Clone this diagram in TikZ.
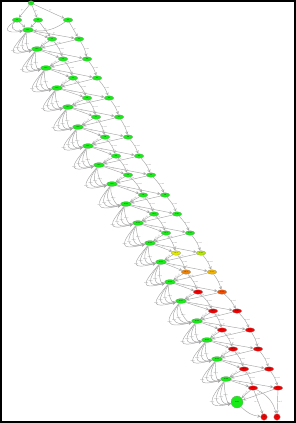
\documentclass[tikz,border=0pt]{standalone}
\usepackage{tikz}
\usetikzlibrary{arrows}
\usetikzlibrary{shapes.geometric}
\definecolor{gn}{RGB}{25,235,25}
\definecolor{rd}{RGB}{240,0,0}
\definecolor{yl}{RGB}{225,235,0}
\definecolor{yg}{RGB}{180,230,0}
\definecolor{og}{RGB}{235,130,10}
\definecolor{oy}{RGB}{240,180,0}
\definecolor{or}{RGB}{240,80,0}

\begin{document}
\begin{tikzpicture}[x=1pt, y=-1pt,
  st/.style={ellipse, draw=black!45, line width=0.2pt, inner sep=0pt,
    minimum width=9.5pt, minimum height=4.5pt, font=\fontsize{1.6}{1.6}\selectfont},
  ed/.style={->, >=stealth, draw=black!35, line width=0.45pt},
  lbl/.style={font=\fontsize{1.8}{1.8}\selectfont, text=black!55, inner sep=0.2pt}]
  \useasboundingbox (0,0) rectangle (296,423);
  \draw[line width=2pt] (1,1) rectangle (295,422);

  % start and first row
  \node[st, fill=gn, minimum width=6pt] (t) at (31,3) {0};
  \node[st, fill=gn] (r1) at (17,20) {r1};
  \node[st, fill=gn] (r2) at (38,20) {r2};
  \node[st, fill=gn] (r3) at (68,20) {r3};

  % main chain
  \foreach \i/\x/\y in {1/28/30, 2/37/49, 3/46/68, 4/57/88, 5/68/107,
      6/78/127, 7/88/146, 8/99/165, 9/112/184, 10/126/204, 11/138/223,
      12/150/243, 13/161/262, 14/170/282, 15/181/301, 16/197/321,
      17/207/340, 18/217/359, 19/226/379}
    \node[st, fill=gn, minimum width=11pt, minimum height=5pt] (m\i) at (\x,\y) {m\i};
  \node[circle, draw=black!45, line width=0.2pt, fill=gn, minimum size=12pt,
    inner sep=0pt, font=\fontsize{1.6}{1.6}\selectfont] (m20) at (237,402) {m20};

  % side states
  \foreach \i/\xa/\xb/\y/\ca/\cb in {1/52/79/39/gn/gn, 2/63/87/59/gn/gn,
      3/73/97/78/gn/gn, 4/87/109/98/gn/gn, 5/96/119/117/gn/gn,
      6/105/128/137/gn/gn, 7/116/139/156/gn/gn, 8/128/151/175/gn/gn,
      9/143/165/195/gn/gn, 10/154/177/214/gn/gn, 11/166/190/233/gn/gn,
      12/176/201/253/yl/yg, 13/186/212/272/og/oy, 14/198/222/292/rd/or,
      15/213/237/311/rd/rd, 16/222/250/330/rd/rd, 17/233/258/349/rd/rd,
      18/244/269/369/rd/rd, 19/253/278/388/rd/rd}{
    \node[st, fill=\ca] (a\i) at (\xa,\y) {a\i};
    \node[st, fill=\cb] (b\i) at (\xb,\y) {b\i};
  }
  \node[circle, draw=black!45, line width=0.2pt, fill=rd, minimum size=6.5pt,
    inner sep=0pt, font=\fontsize{1.6}{1.6}\selectfont] (c1) at (264,417) {c1};
  \node[circle, draw=black!45, line width=0.2pt, fill=rd, minimum size=6.5pt,
    inner sep=0pt, font=\fontsize{1.6}{1.6}\selectfont] (c2) at (277,417) {c2};

  % edges at the top
  \draw[ed] (t) -- node[lbl, above left] {go} (r1);
  \draw[ed] (t) -- node[lbl, right] {go} (r2);
  \draw[ed] (t) -- node[lbl, above right] {go} (r3);
  \draw[ed] (r1) -- (m1);
  \draw[ed] (r2) -- (m1);
  \draw[ed] (r2) -- node[lbl, sloped, above] {go} (a1);
  \draw[ed] (r3) -- node[lbl, right] {go} (b1);
  \draw[ed] (r1) .. controls +(-8,7) and +(-14,2) .. node[lbl] {go} (m1);
  \draw[ed] (r1) .. controls +(-14,9) and +(-22,4) .. (m1);
  \draw[ed] (r3) to[bend left=20] (m1);

  % edges along the chain
  \foreach \i [evaluate=\i as \j using int(\i+1)] in {1,...,19}{
    \draw[ed] (m\i) -- node[lbl, sloped, above] {go} (a\i);
    \draw[ed] (m\i) -- node[lbl, sloped, above] {go} (b\i);
    \draw[ed] (a\i) -- node[lbl, sloped, above] {back} (m\j);
    \draw[ed] (b\i) -- node[lbl, sloped, above] {back} (m\j);
    \draw[ed] (m\i) .. controls +(-3,9) and +(-10,2) .. node[lbl] {stay} (m\j);
    \draw[ed] (m\i) .. controls +(-8,13) and +(-17,4) .. node[lbl] {stay} (m\j);
    \draw[ed] (m\i) .. controls +(-13,17) and +(-24,6) .. node[lbl] {stay} (m\j);
    \draw[ed] (m\i) .. controls +(-18,21) and +(-31,8) .. node[lbl] {stay} (m\j);
  }
  \foreach \i [evaluate=\i as \j using int(\i+1)] in {1,...,18}{
    \draw[ed] (a\i) to[bend left=10] node[lbl, right] {next} (a\j);
    \draw[ed] (b\i) to[bend left=10] node[lbl, right] {next} (b\j);
  }

  % edges at the bottom
  \draw[ed] (a19) -- node[lbl, left] {end} (c1);
  \draw[ed] (b19) -- node[lbl, right] {end} (c2);
  \draw[ed] (a19) to[bend left=25] (c2);
  \draw[ed] (m20) to[bend right=20] (c1);
\end{tikzpicture}
\end{document}
